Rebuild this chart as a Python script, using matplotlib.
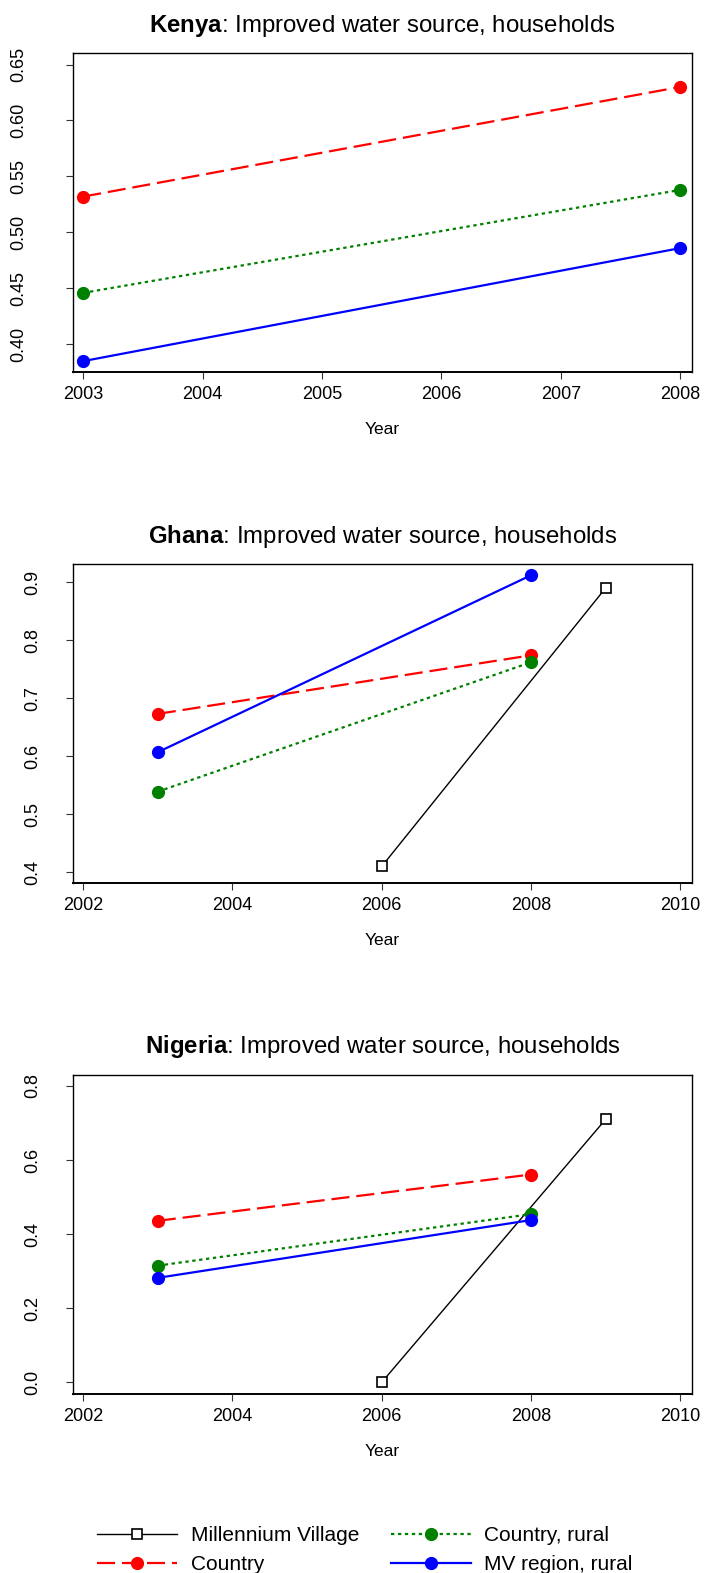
import matplotlib
matplotlib.use('Agg')

import matplotlib.pyplot as plt
from matplotlib.ticker import FormatStrFormatter

plt.rcParams['font.family'] = 'Liberation Sans'
plt.rcParams['mathtext.fontset'] = 'custom'
plt.rcParams['mathtext.rm'] = 'Liberation Sans'
plt.rcParams['mathtext.bf'] = 'Liberation Sans:bold'
plt.rcParams['lines.scale_dashes'] = False

# survey years
survey_years = [2003, 2008]
mv_years = [2006, 2009]

# Kenya (no Millennium Village series)
kenya_country = [0.532, 0.630]
kenya_rural = [0.446, 0.538]
kenya_mv_region = [0.385, 0.486]

# Ghana
ghana_mv = [0.410, 0.890]
ghana_country = [0.673, 0.774]
ghana_rural = [0.539, 0.762]
ghana_mv_region = [0.607, 0.912]

# Nigeria
nigeria_mv = [0.000, 0.710]
nigeria_country = [0.436, 0.561]
nigeria_rural = [0.315, 0.454]
nigeria_mv_region = [0.282, 0.438]

series_labels = ['Millennium Village', 'Country', 'Country, rural', 'MV region, rural']

styles = {
    'Millennium Village': dict(color='black', lw=1.0, ls='-', marker='s', ms=7.5,
                               mfc='white', mec='black', mew=1.2),
    'Country': dict(color='#FF0000', lw=1.6, ls=(0, (13, 5)), marker='o', ms=8.5),
    'Country, rural': dict(color='#008000', lw=1.6, ls=(0, (2.4, 2.6)), marker='o', ms=8.5),
    'MV region, rural': dict(color='#0000FF', lw=1.6, ls='-', marker='o', ms=8.5),
}

panels = [
    dict(name='Kenya', bottom=0.7633,
         series={'Country': (survey_years, kenya_country),
                 'Country, rural': (survey_years, kenya_rural),
                 'MV region, rural': (survey_years, kenya_mv_region)},
         xlim=(2002.917, 2008.095), ylim=(0.375, 0.660),
         xticks=[2003, 2004, 2005, 2006, 2007, 2008],
         yticks=[0.40, 0.45, 0.50, 0.55, 0.60, 0.65], yfmt='%.2f', ypad=28),
    dict(name='Ghana', bottom=0.4385,
         series={'Millennium Village': (mv_years, ghana_mv),
                 'Country': (survey_years, ghana_country),
                 'Country, rural': (survey_years, ghana_rural),
                 'MV region, rural': (survey_years, ghana_mv_region)},
         xlim=(2001.867, 2010.153), ylim=(0.381, 0.931),
         xticks=[2002, 2004, 2006, 2008, 2010],
         yticks=[0.4, 0.5, 0.6, 0.7, 0.8, 0.9], yfmt='%.1f', ypad=18.5),
    dict(name='Nigeria', bottom=0.1138,
         series={'Millennium Village': (mv_years, nigeria_mv),
                 'Country': (survey_years, nigeria_country),
                 'Country, rural': (survey_years, nigeria_rural),
                 'MV region, rural': (survey_years, nigeria_mv_region)},
         xlim=(2001.867, 2010.153), ylim=(-0.0316, 0.8297),
         xticks=[2002, 2004, 2006, 2008, 2010],
         yticks=[0.0, 0.2, 0.4, 0.6, 0.8], yfmt='%.1f', ypad=18.5),
]

fig = plt.figure(figsize=(7.04, 15.73), dpi=100)

handles = {}
for p in panels:
    ax = fig.add_axes([0.1041, p['bottom'], 0.8784, 0.2028])
    for label in series_labels:
        if label not in p['series']:
            continue
        xs, ys = p['series'][label]
        line, = ax.plot(xs, ys, **styles[label])
        handles[label] = line

    ax.set_xlim(*p['xlim'])
    ax.set_ylim(*p['ylim'])
    ax.set_xticks(p['xticks'])
    ax.set_yticks(p['yticks'])
    ax.yaxis.set_major_formatter(FormatStrFormatter(p['yfmt']))

    ax.tick_params(direction='out', length=4.8, width=0.8, labelsize=13, color='#333333')
    ax.tick_params(axis='x', pad=5.0)
    ax.tick_params(axis='y', pad=p['ypad'], labelrotation=90)
    plt.setp(ax.get_yticklabels(), va='center')

    for side, sp in ax.spines.items():
        sp.set_linewidth(1.0)
    ax.spines['bottom'].set_linewidth(1.4)

    ax.set_title(r'$\mathbf{%s}$: Improved water source, households' % p['name'],
                 fontsize=17.3, pad=15.5)
    ax.set_xlabel('Year', fontsize=12.5)
    ax.xaxis.set_label_coords(0.5, -0.193)
    ax.xaxis.label.set_va('baseline')

fig.legend([handles[l] for l in series_labels], series_labels,
           ncol=2, loc='center', bbox_to_anchor=(365 / 704, 1 - 1550 / 1573),
           frameon=False, fontsize=15, handlelength=3.84, handletextpad=0.66,
           columnspacing=1.5, labelspacing=0.49, borderpad=0, numpoints=1)

fig.savefig('out.png', dpi=100)
